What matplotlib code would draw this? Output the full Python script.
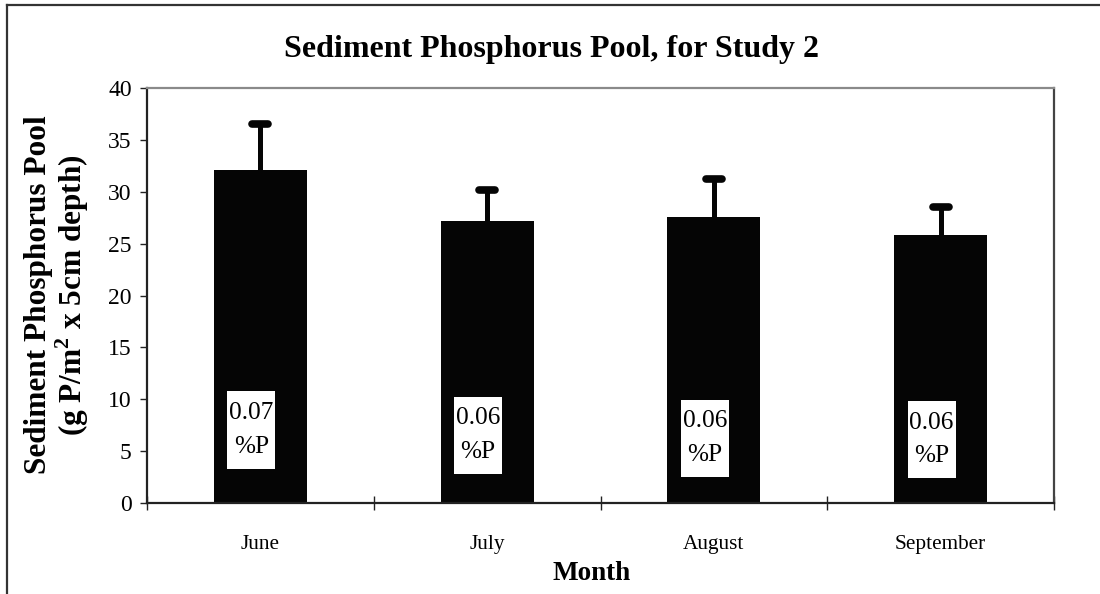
import matplotlib
matplotlib.use("Agg")
import matplotlib.pyplot as plt
from matplotlib.patches import Rectangle
from matplotlib.lines import Line2D
import numpy as np

# Monthly sediment phosphorus pool (g P/m^2, 0-5 cm) with upper error
months = ["June", "July", "August", "September"]
pool = [32.1, 27.2, 27.6, 25.8]
pool_err = [4.4, 3.0, 3.6, 2.7]
percent_p = ["0.07", "0.06", "0.06", "0.06"]

plt.rcParams["font.family"] = ["Liberation Serif", "DejaVu Serif"]
plt.rcParams["mathtext.fontset"] = "custom"
plt.rcParams["mathtext.rm"] = "Liberation Serif"
plt.rcParams["mathtext.bf"] = "Liberation Serif:bold"

W, H = 1100, 594
fig = plt.figure(figsize=(W / 100, H / 100), dpi=100)
ax = fig.add_axes([147 / W, 1 - 503 / H, (1054 - 147) / W, (503 - 88) / H])

x = np.arange(len(months))
ax.bar(x, pool, width=0.41, color="#050505", zorder=2)

# one-sided error bars with rounded caps
ax.errorbar(x, pool, yerr=[np.zeros(len(pool)), pool_err], fmt="none",
            ecolor="#050505", elinewidth=3.6, capsize=0, zorder=3)
tops = np.array(pool) + np.array(pool_err)
ax.hlines(tops, x - 0.035, x + 0.035, colors="#050505", linewidth=5.5,
          capstyle="round", zorder=3)

# %P labels in white boxes on each bar
box_bottom = [3.3, 2.8, 2.5, 2.4]
box_w, box_h, box_dx = 0.212, 7.45, -0.04
for xi, lab, yb in zip(x, percent_p, box_bottom):
    ax.add_patch(Rectangle((xi + box_dx - box_w / 2, yb), box_w, box_h,
                           facecolor="white", edgecolor="none", zorder=4))
    ax.text(xi + box_dx, yb + box_h / 2, lab + "\n%P", ha="center",
            va="center", fontsize=18.2, linespacing=1.7, zorder=5)

ax.set_xlim(-0.5, len(months) - 0.5)
ax.set_ylim(0, 40)
ax.set_yticks(np.arange(0, 41, 5))
ax.set_xticks(x)
ax.set_xticklabels(months, fontsize=15.3)
ax.set_xticks(np.arange(-0.5, len(months), 1.0), minor=True)
ax.tick_params(axis="x", which="major", length=0, pad=23)
ax.tick_params(axis="x", which="minor", direction="inout", length=10,
               width=1.0, color="#222222")
ax.tick_params(axis="y", direction="out", length=5, width=1.0,
               color="#222222", labelsize=17, pad=6)

for side in ("left", "bottom"):
    ax.spines[side].set_color("#222222")
    ax.spines[side].set_linewidth(1.6)
ax.spines["top"].set_color("#8a8a8a")
ax.spines["top"].set_linewidth(1.6)
ax.spines["right"].set_color("#444444")
ax.spines["right"].set_linewidth(1.6)

fig.text(552 / W, 1 - 50 / H, "Sediment Phosphorus Pool, for Study 2",
         ha="center", va="center", fontsize=23, fontweight="bold")
fig.text(592 / W, 1 - 573 / H, "Month", ha="center", va="center",
         fontsize=19.5, fontweight="bold")
fig.text(39 / W, 1 - 295 / H, "Sediment Phosphorus Pool", rotation=90,
         ha="center", va="center", fontsize=22.5, fontweight="bold")
fig.text(72 / W, 1 - 295 / H, r"(g P/m$^\mathbf{2}$ x 5cm depth)",
         rotation=90, ha="center", va="center", fontsize=22.5,
         fontweight="bold")

# outer chart frame
fig.add_artist(Line2D([7 / W, 1.0], [1 - 5 / H, 1 - 5 / H],
                      transform=fig.transFigure, color="#333333", lw=1.6))
fig.add_artist(Line2D([7 / W, 7 / W], [0.0, 1 - 5 / H],
                      transform=fig.transFigure, color="#333333", lw=1.6))

fig.savefig("out.png", dpi=100)
